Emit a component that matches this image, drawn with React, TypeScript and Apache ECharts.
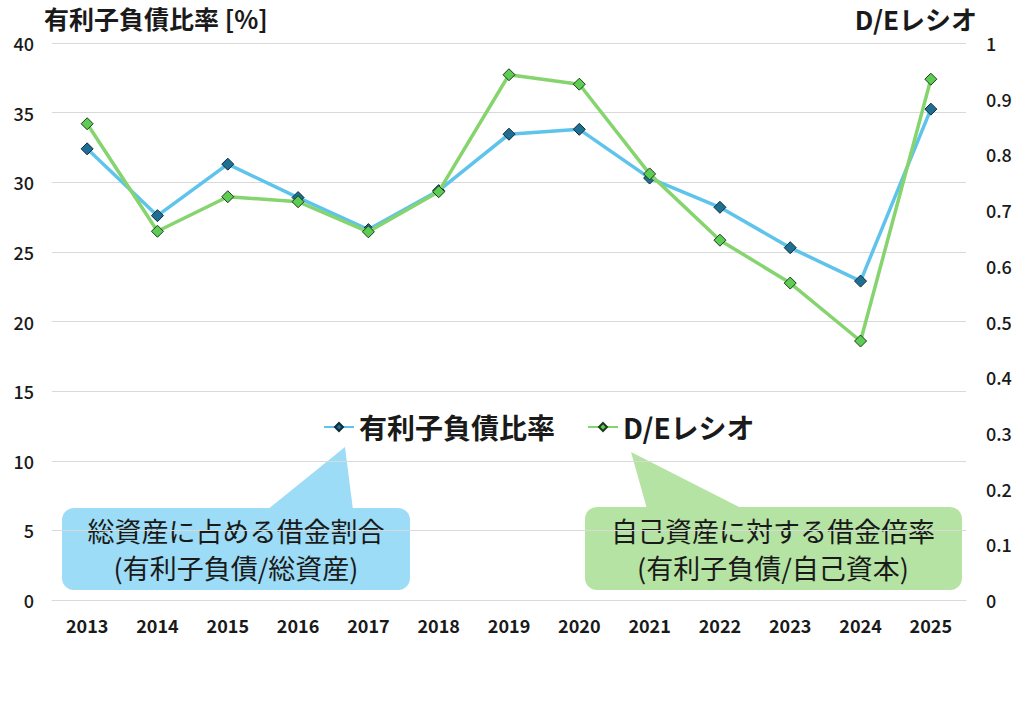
import { useRef, useEffect } from 'react';
import * as echarts from 'echarts';

const years = ['2013', '2014', '2015', '2016', '2017', '2018', '2019', '2020', '2021', '2022', '2023', '2024', '2025'];
// 有利子負債比率 [%] (left axis)
const debtRatio = [32.4, 27.6, 31.3, 28.9, 26.6, 29.4, 33.45, 33.8, 30.3, 28.2, 25.3, 22.9, 35.25];
// D/Eレシオ (right axis)
const deRatio = [0.855, 0.662, 0.724, 0.715, 0.661, 0.733, 0.943, 0.926, 0.765, 0.646, 0.569, 0.465, 0.935];

const FONT = '"Noto Sans CJK JP", "Noto Sans", sans-serif';
const TEXT = '#1a1a1a';

// one line of callout text
const calloutLine = (text: string, x: number, y: number) => ({
  type: 'text',
  x,
  y,
  style: {
    text,
    fontFamily: FONT,
    fontSize: 27,
    fill: TEXT,
    align: 'center',
    verticalAlign: 'middle',
  },
});

export default function App() {
  const containerRef = useRef<HTMLDivElement>(null);

  useEffect(() => {
    if (!containerRef.current) return;
    document.body.style.margin = '0';
    const chart = echarts.init(containerRef.current, undefined, { renderer: 'svg' });

    chart.setOption({
      animation: false,
      backgroundColor: '#ffffff',
      textStyle: { fontFamily: FONT },
      grid: { left: 52, right: 58, top: 43, bottom: 105 },
      legend: {
        left: 318,
        top: 408,
        itemWidth: 30,
        itemHeight: 10,
        itemGap: 32,
        textStyle: { fontFamily: FONT, fontSize: 28, fontWeight: 'bold', color: TEXT },
        data: ['有利子負債比率', 'D/Eレシオ'],
      },
      xAxis: {
        type: 'category',
        data: years,
        axisLine: { lineStyle: { color: '#d9d9d9' } },
        axisTick: { show: false },
        axisLabel: { fontFamily: FONT, fontSize: 18, fontWeight: 'bold', color: TEXT, margin: 16 },
      },
      yAxis: [
        {
          type: 'value',
          min: 0,
          max: 40,
          interval: 5,
          axisLine: { show: false },
          axisTick: { show: false },
          axisLabel: { fontFamily: FONT, fontSize: 18, fontWeight: 500, color: TEXT, margin: 18 },
          splitLine: { lineStyle: { color: '#d9d9d9', width: 1 } },
        },
        {
          type: 'value',
          min: 0,
          max: 1,
          interval: 0.1,
          axisLine: { show: false },
          axisTick: { show: false },
          axisLabel: { fontFamily: FONT, fontSize: 18, fontWeight: 500, color: TEXT, margin: 20 },
          splitLine: { show: false },
        },
      ],
      series: [
        {
          name: '有利子負債比率',
          type: 'line',
          yAxisIndex: 0,
          data: debtRatio,
          symbol: 'diamond',
          symbolSize: 12,
          lineStyle: { color: '#5ec4ec', width: 3.5 },
          itemStyle: { color: '#1f6f93', borderColor: '#0d2b3a', borderWidth: 1 },
          z: 3,
        },
        {
          name: 'D/Eレシオ',
          type: 'line',
          yAxisIndex: 1,
          data: deRatio,
          symbol: 'diamond',
          symbolSize: 12,
          lineStyle: { color: '#86d46e', width: 3.5 },
          itemStyle: { color: '#5ccc52', borderColor: '#1d3a1d', borderWidth: 1 },
          z: 4,
        },
      ],
      graphic: [
        {
          type: 'text',
          left: 44,
          top: 5,
          style: { text: '有利子負債比率 [%]', fontFamily: FONT, fontSize: 25, fontWeight: 'bold', fill: TEXT },
        },
        {
          type: 'text',
          right: 47,
          top: 5,
          style: { text: 'D/Eレシオ', fontFamily: FONT, fontSize: 26, fontWeight: 'bold', fill: TEXT },
        },
        // blue callout
        {
          type: 'group',
          z: 10,
          children: [
            {
              type: 'polygon',
              shape: { points: [[345, 447], [267, 510], [353, 510]] },
              style: { fill: '#9cdcf6' },
            },
            {
              type: 'rect',
              shape: { x: 62, y: 508, width: 348, height: 82, r: 12 },
              style: { fill: '#9cdcf6' },
            },
            calloutLine('総資産に占める借金割合', 236, 530),
            calloutLine('(有利子負債/総資産)', 236, 567),
          ],
        },
        // green callout
        {
          type: 'group',
          z: 10,
          children: [
            {
              type: 'polygon',
              shape: { points: [[631, 452], [647, 509], [743, 509]] },
              style: { fill: '#b5e3a3' },
            },
            {
              type: 'rect',
              shape: { x: 585, y: 507, width: 377, height: 83, r: 12 },
              style: { fill: '#b5e3a3' },
            },
            calloutLine('自己資産に対する借金倍率', 773, 530),
            calloutLine('(有利子負債/自己資本)', 773, 567),
          ],
        },
      ],
    });

    return () => {
      chart.dispose();
    };
  }, []);

  return <div ref={containerRef} style={{ width: 1024, height: 705 }} />;
}
